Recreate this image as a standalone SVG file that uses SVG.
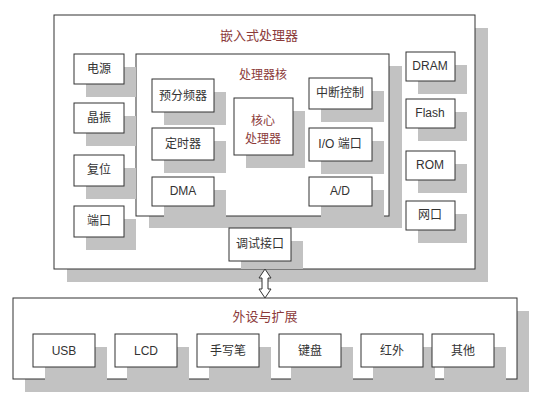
<svg xmlns="http://www.w3.org/2000/svg" width="538" height="400" viewBox="0 0 538 400">
<style>
.sh{fill:#c2c2c2}
.bx{fill:#fff;stroke:#333;stroke-width:1}
.t{font-family:"Liberation Sans","Noto Sans CJK SC",sans-serif;font-size:12px;fill:#333;text-anchor:middle;dominant-baseline:central}
.r{font-family:"Noto Sans CJK SC","Liberation Sans",sans-serif;font-size:12px;fill:#8b3a3a;text-anchor:middle;dominant-baseline:central}
.h{font-size:13px}
</style>
<rect width="538" height="400" fill="#fff"/>
<g id="embedded">
<rect class="sh" x="67" y="28" width="421" height="254"/>
<rect class="bx" x="54" y="15" width="421" height="254"/>
<text class="r h" x="259" y="34">嵌入式处理器</text>
</g>
<g id="core">
<rect class="sh" x="149" y="66" width="253" height="162"/>
<rect class="bx" x="136" y="54" width="253" height="162"/>
<text class="r" x="263" y="73">处理器核</text>
</g>
<g id="prescaler"><rect class="sh" x="164" y="92" width="62" height="33"/><rect class="bx" x="152" y="79" width="62" height="33"/><text class="t" x="183" y="96">预分频器</text></g>
<g id="timer"><rect class="sh" x="164" y="141" width="62" height="32"/><rect class="bx" x="152" y="128" width="62" height="32"/><text class="t" x="183" y="144">定时器</text></g>
<g id="dma"><rect class="sh" x="164" y="190" width="62" height="29"/><rect class="bx" x="152" y="177" width="62" height="29"/><text class="t" x="183" y="191">DMA</text></g>
<g id="cpu"><rect class="sh" x="246" y="111" width="59" height="57"/><rect class="bx" x="234" y="98" width="59" height="57"/><text class="r" x="263" y="119">核心</text><text class="r" x="263" y="137">处理器</text></g>
<g id="interrupt"><rect class="sh" x="321" y="91" width="63" height="31"/><rect class="bx" x="309" y="78" width="63" height="31"/><text class="t" x="340" y="93">中断控制</text></g>
<g id="io"><rect class="sh" x="321" y="141" width="63" height="33"/><rect class="bx" x="309" y="128" width="63" height="33"/><text class="t" x="340" y="144">I/O 端口</text></g>
<g id="ad"><rect class="sh" x="321" y="190" width="63" height="29"/><rect class="bx" x="309" y="177" width="63" height="29"/><text class="t" x="340" y="191">A/D</text></g>
<g id="power"><rect class="sh" x="86" y="67" width="50" height="30"/><rect class="bx" x="74" y="54" width="50" height="30"/><text class="t" x="99" y="69">电源</text></g>
<g id="crystal"><rect class="sh" x="86" y="116" width="50" height="30"/><rect class="bx" x="74" y="103" width="50" height="30"/><text class="t" x="99" y="118">晶振</text></g>
<g id="reset"><rect class="sh" x="86" y="168" width="50" height="31"/><rect class="bx" x="74" y="155" width="50" height="31"/><text class="t" x="99" y="170">复位</text></g>
<g id="port"><rect class="sh" x="86" y="219" width="50" height="31"/><rect class="bx" x="74" y="206" width="50" height="31"/><text class="t" x="99" y="221">端口</text></g>
<g id="dram"><rect class="sh" x="418" y="65" width="49" height="29"/><rect class="bx" x="406" y="52" width="49" height="29"/><text class="t" x="430" y="66">DRAM</text></g>
<g id="flash"><rect class="sh" x="418" y="112" width="49" height="29"/><rect class="bx" x="406" y="99" width="49" height="29"/><text class="t" x="430" y="113">Flash</text></g>
<g id="rom"><rect class="sh" x="418" y="164" width="49" height="29"/><rect class="bx" x="406" y="151" width="49" height="29"/><text class="t" x="430" y="165">ROM</text></g>
<g id="net"><rect class="sh" x="418" y="214" width="49" height="29"/><rect class="bx" x="406" y="201" width="49" height="29"/><text class="t" x="430" y="215">网口</text></g>
<g id="debug"><rect class="sh" x="241" y="241" width="62" height="28"/><rect class="bx" x="229" y="228" width="62" height="33"/><text class="t" x="260" y="244">调试接口</text></g>
<g id="peripherals">
<rect class="sh" x="25" y="311" width="504" height="81"/>
<rect class="bx" x="13" y="298" width="504" height="81"/>
<text class="r h" x="265" y="315">外设与扩展</text>
</g>
<g id="usb"><rect class="sh" x="45" y="347" width="62" height="33"/><rect class="bx" x="33" y="334" width="62" height="33"/><text class="t" x="64" y="351">USB</text></g>
<g id="lcd"><rect class="sh" x="127" y="347" width="62" height="33"/><rect class="bx" x="115" y="334" width="62" height="33"/><text class="t" x="146" y="351">LCD</text></g>
<g id="pen"><rect class="sh" x="209" y="347" width="62" height="33"/><rect class="bx" x="197" y="334" width="62" height="33"/><text class="t" x="228" y="351">手写笔</text></g>
<g id="keyboard"><rect class="sh" x="291" y="347" width="62" height="33"/><rect class="bx" x="279" y="334" width="62" height="33"/><text class="t" x="310" y="351">键盘</text></g>
<g id="ir"><rect class="sh" x="373" y="347" width="62" height="33"/><rect class="bx" x="361" y="334" width="62" height="33"/><text class="t" x="392" y="351">红外</text></g>
<g id="other"><rect class="sh" x="444" y="347" width="62" height="33"/><rect class="bx" x="432" y="334" width="62" height="33"/><text class="t" x="463" y="351">其他</text></g>
<g id="connectors">
<path d="M265,269 L271,278 L268,278 L268,289 L271,289 L265,298 L259,289 L262,289 L262,278 L259,278 Z" fill="#fff" stroke="#333" stroke-width="1"/>
</g>
</svg>
